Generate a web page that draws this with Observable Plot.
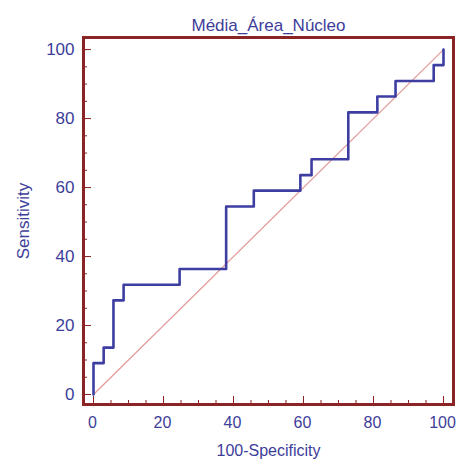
<!DOCTYPE html>
<html><head><meta charset="utf-8">
<script src="https://cdn.jsdelivr.net/npm/d3@7"></script>
<script src="https://cdn.jsdelivr.net/npm/@observablehq/plot@0.6"></script>
<style>body{margin:0;background:#fff}</style>
</head><body><div id="chart"></div>
<script>
const title = "Média_Área_Núcleo";
const xLabel = "100-Specificity";
const yLabel = "Sensitivity";
// ROC step points (100-Specificity, Sensitivity)
const fpr = [0, 0, 2.9, 5.7, 8.6, 24.6, 37.9, 45.8, 59.1, 62.3, 72.8, 81.1, 86.3, 97.2, 100];
const tpr = [0, 9.1, 13.6, 27.3, 31.8, 36.4, 54.5, 59.1, 63.6, 68.2, 81.8, 86.4, 90.9, 95.5, 100];
// reference diagonal
const diagX = [0, 100];
const diagY = [0, 100];
const majorTicks = [0, 20, 40, 60, 80, 100];
const minorTicks = [0, 5, 10, 15, 20, 25, 30, 35, 40, 45, 50, 55, 60, 65, 70, 75, 80, 85, 90, 95, 100];

const roc = fpr.map((x, i) => ({x, y: tpr[i]}));
const diag = diagX.map((x, i) => ({x, y: diagY[i]}));

const textColor = "#3d3d9a";
const frameColor = "#8b2424";

const chart = Plot.plot({
  width: 456,
  height: 465,
  marginLeft: 83,
  marginRight: 3,
  marginTop: 37,
  marginBottom: 61,
  style: {fontFamily: "Liberation Sans, Arial, sans-serif", fontSize: "18px", color: textColor, background: "#fff"},
  x: {domain: [-2.86, 102.86]},
  y: {domain: [-2.9, 103.5]},
  marks: [
    Plot.axisX({ticks: minorTicks, tickSize: -4, text: null, stroke: frameColor, label: null}),
    Plot.axisX({ticks: majorTicks, tickSize: -8, text: null, stroke: frameColor, label: null}),
    Plot.axisY({ticks: minorTicks, tickSize: -4, text: null, stroke: frameColor, label: null}),
    Plot.axisY({ticks: majorTicks, tickSize: -8, text: null, stroke: frameColor, label: null}),
    Plot.axisX({ticks: majorTicks, tickSize: 0, tickPadding: 12, fill: textColor, fontSize: 16, dx: -1,
      label: xLabel, labelAnchor: "center", labelOffset: 51, labelArrow: "none"}),
    Plot.axisY({ticks: majorTicks, tickSize: 0, tickPadding: 9, fill: textColor, fontSize: 17,
      label: yLabel, labelAnchor: "center", labelOffset: 67, labelArrow: "none"}),
    Plot.line(diag, {x: "x", y: "y", stroke: "#e39a9a", strokeWidth: 1.2}),
    Plot.line(roc, {x: "x", y: "y", curve: "step-after", stroke: "#3e3ea2", strokeWidth: 2.6}),
    Plot.frame({stroke: frameColor, strokeWidth: 3}),
    Plot.text([title], {frameAnchor: "top", dy: -19, fill: textColor, fontSize: 17})
  ]
});
document.getElementById("chart").append(chart);
</script>
</body></html>
